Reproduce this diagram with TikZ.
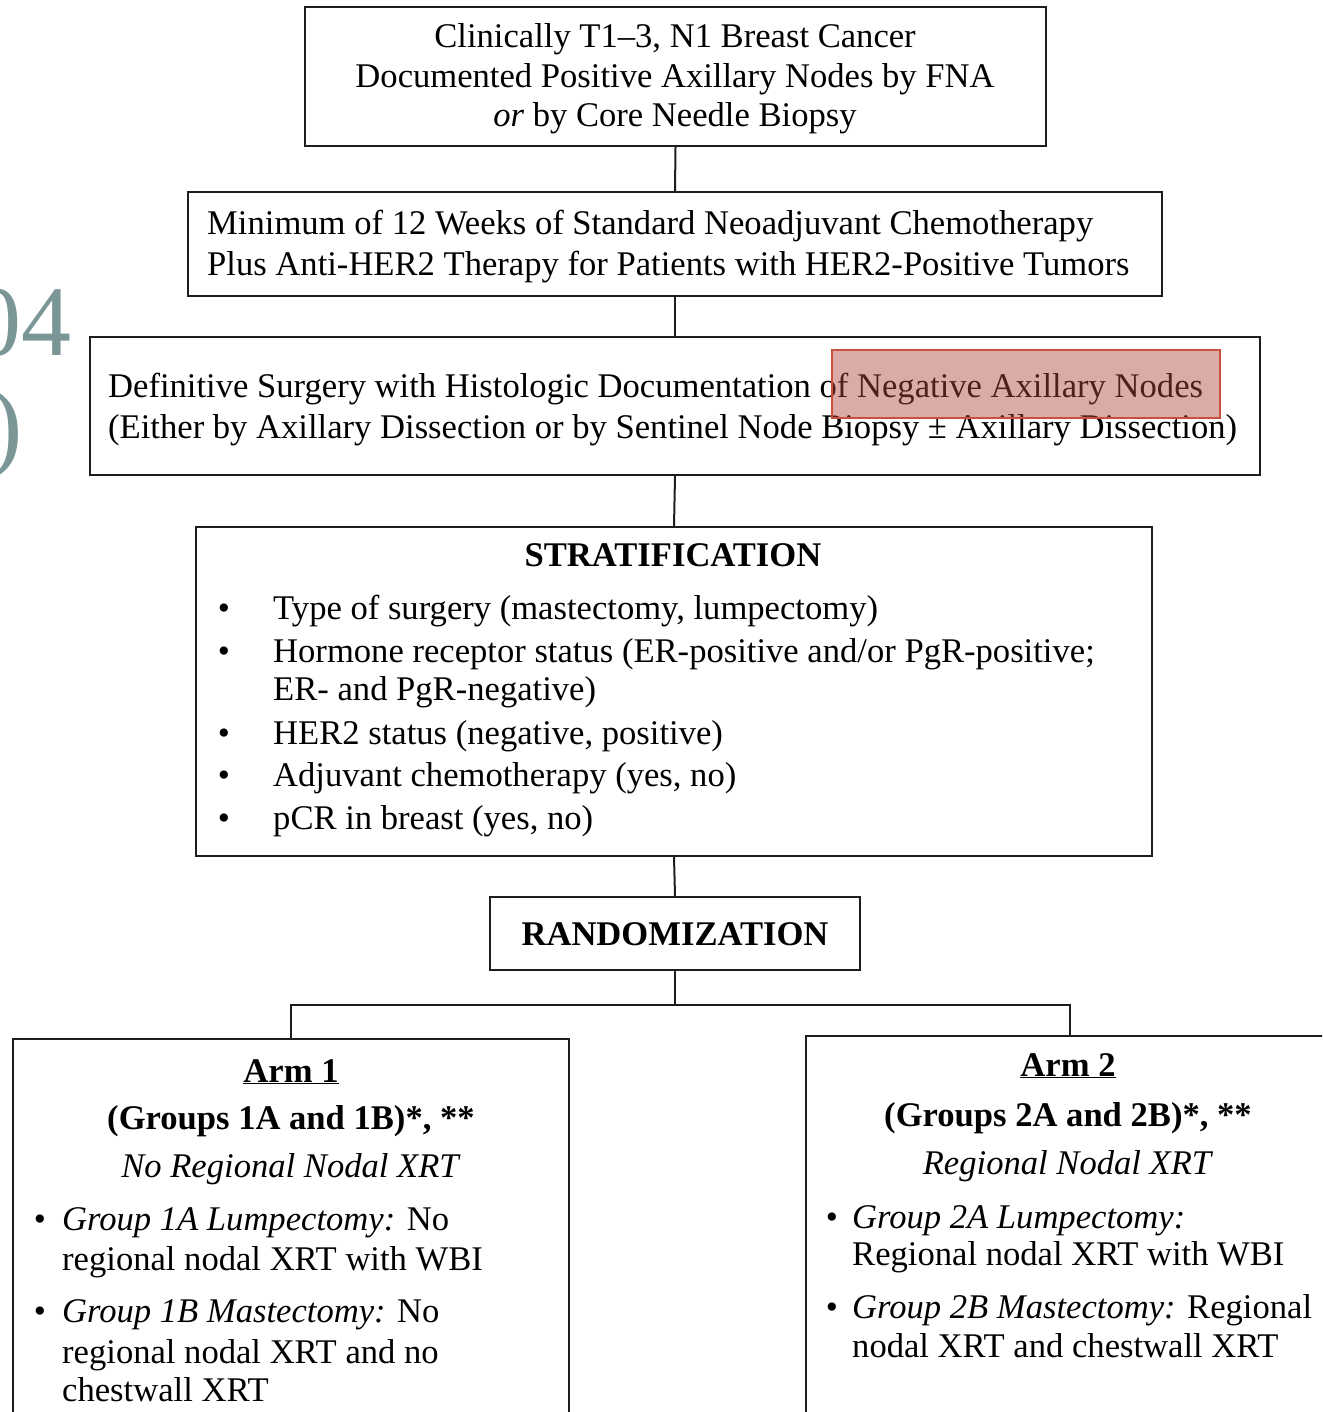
\documentclass[tikz,border=0pt]{standalone}
\usepackage{fontspec}
\setmainfont{Liberation Serif}
\definecolor{teal}{RGB}{122,150,150}
\definecolor{hlfill}{RGB}{175,70,60}
\definecolor{hldraw}{RGB}{200,80,60}
\definecolor{linec}{RGB}{30,30,30}
\begin{document}
\begin{tikzpicture}[x=1pt,y=-1pt,
  box/.style={draw=linec,line width=2pt,rectangle,inner sep=0pt},
  conn/.style={draw=linec,line width=2pt},
  txt/.style={inner sep=0pt,anchor=base,font=\fontsize{34.6}{40}\selectfont},
  txtl/.style={inner sep=0pt,anchor=base west,font=\fontsize{34.6}{40}\selectfont},
  bul/.style={inner sep=0pt,anchor=base,font=\fontsize{34.6}{40}\selectfont}]
\useasboundingbox (0,0) rectangle (1322,1412);
\clip (0,0) rectangle (1322,1412);
% background title fragment
\node[inner sep=0pt,anchor=base east,text=teal,font=\fontsize{100}{110}\selectfont] (bg1) at (72,355) {04};
\node[inner sep=0pt,anchor=base east,text=teal,font=\fontsize{100}{110}\selectfont] (bg2) at (23,458) {)};
% boxes
\node[box,minimum width=741pt,minimum height=139pt] (b1) at (675.5,76.5) {};
\node[box,minimum width=974pt,minimum height=104pt] (b2) at (675,244) {};
\node[box,minimum width=1170pt,minimum height=138pt] (b3) at (675,406) {};
\node[box,minimum width=956pt,minimum height=329pt] (b4) at (674,691.5) {};
\node[box,minimum width=370pt,minimum height=73pt] (b5) at (675,933.5) {};
\node[box,minimum width=556pt,minimum height=401pt] (arm1) at (291,1239.5) {};
\node[box,minimum width=528pt,minimum height=404pt] (arm2) at (1070,1238) {};
% connectors
\coordinate (split) at (675,1005);
\draw[conn] (b1.south) -- (b2.north);
\draw[conn] (b2.south) -- (b3.north);
\draw[conn] (b3.south) -- (b4.north);
\draw[conn] (b4.south) -- (b5.north);
\draw[conn] (b5.south) -- (split);
\draw[conn] (split) -| (arm1.north);
\draw[conn] (split) -| (arm2.north);
% box 1 text
\node[txt] (t11) at (675,48) {Clinically T1–3, N1 Breast Cancer};
\node[txt] (t12) at (675,88) {Documented Positive Axillary Nodes by FNA};
\node[txt] (t13) at (675,127) {\textit{or} by Core Needle Biopsy};
% box 2 text
\node[txtl] (t21) at (207,235) {Minimum of 12 Weeks of Standard Neoadjuvant Chemotherapy};
\node[txtl] (t22) at (207,276) {Plus Anti-HER2 Therapy for Patients with HER2-Positive Tumors};
% box 3 text
\node[txtl] (t31) at (108,397) {Definitive Surgery with Histologic Documentation of Negative Axillary Nodes};
\node[txtl] (t32) at (108,438) {(Either by Axillary Dissection or by Sentinel Node Biopsy ± Axillary Dissection)};
% highlight
\node[draw=hldraw,line width=1.5pt,fill=hlfill,fill opacity=0.45,inner sep=0pt,minimum width=388pt,minimum height=68pt] (hl) at (1026,384) {};
% stratification
\node[txt] (t40) at (673,566) {\textbf{STRATIFICATION}};
\node[bul] (s1b) at (224,619) {•};
\node[txtl] (s1) at (273,619) {Type of surgery (mastectomy, lumpectomy)};
\node[bul] (s2b) at (224,662) {•};
\node[txtl] (s2) at (273,662) {Hormone receptor status (ER-positive and/or PgR-positive;};
\node[txtl] (s2c) at (273,700) {ER- and PgR-negative)};
\node[bul] (s3b) at (224,744) {•};
\node[txtl] (s3) at (273,744) {HER2 status (negative, positive)};
\node[bul] (s4b) at (224,786) {•};
\node[txtl] (s4) at (273,786) {Adjuvant chemotherapy (yes, no)};
\node[bul] (s5b) at (224,829) {•};
\node[txtl] (s5) at (273,829) {pCR in breast (yes, no)};
% randomization
\node[txt] (t50) at (675,945) {\textbf{RANDOMIZATION}};
% arm 1
\node[txt] (a10) at (291,1082) {\textbf{\underline{Arm 1}}};
\node[txt] (a11) at (291,1129) {\textbf{(Groups 1A and 1B)*, **}};
\node[txt] (a12) at (291,1177) {\textit{No Regional Nodal XRT}};
\node[bul] (a1b1) at (40,1230) {•};
\node[txtl] (a13) at (62,1230) {\textit{Group 1A Lumpectomy:} No};
\node[txtl] (a14) at (62,1270) {regional nodal XRT with WBI};
\node[bul] (a1b2) at (40,1322) {•};
\node[txtl] (a15) at (62,1322) {\textit{Group 1B Mastectomy:} No};
\node[txtl] (a16) at (62,1363) {regional nodal XRT and no};
\node[txtl] (a17) at (62,1401) {chestwall XRT};
% arm 2
\node[txt] (a20) at (1068,1076) {\textbf{\underline{Arm 2}}};
\node[txt] (a21) at (1068,1126) {\textbf{(Groups 2A and 2B)*, **}};
\node[txt] (a22) at (1068,1174) {\textit{Regional Nodal XRT}};
\node[bul] (a2b1) at (832,1228) {•};
\node[txtl] (a23) at (852,1228) {\textit{Group 2A Lumpectomy:}};
\node[txtl] (a24) at (852,1265) {Regional nodal XRT with WBI};
\node[bul] (a2b2) at (832,1318) {•};
\node[txtl] (a25) at (852,1318) {\textit{Group 2B Mastectomy:} Regional};
\node[txtl] (a26) at (852,1357) {nodal XRT and chestwall XRT};
\end{tikzpicture}
\end{document}
